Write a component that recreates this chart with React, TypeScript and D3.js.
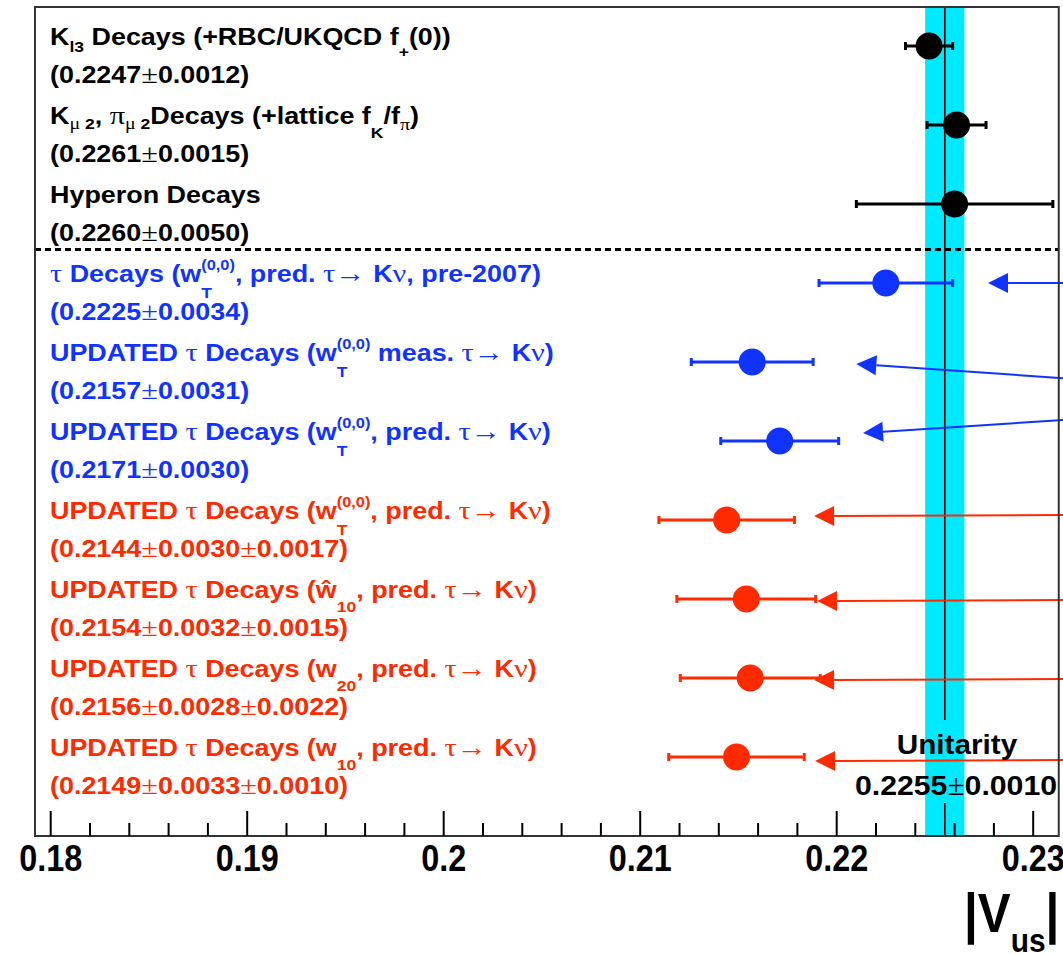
import React from 'react';
import * as d3 from 'd3';

const W = 1063;
const H = 954;

// ---------- data ----------
type Seg = [string, string, number?, string?];

const labels: Seg[][] = [
  [['K', 'n'], ['l3', 'd', 7], [' Decays (+RBC/UKQCD f', 'n'], ['+', 'd', 12], ['(0))', 'n']],
  [['K', 'n'], ['μ', 'dg', 5], [' 2', 'd', 5], [', ', 'n'], ['π', 'g'], ['μ', 'dg', 5], [' 2', 'd', 5], ['Decays (+lattice f', 'n'], ['K', 'd', 14], ['/f', 'n'], ['π', 'dg', 6], [')', 'n']],
  [['Hyperon Decays', 'n']],
  [['τ', 'g'], [' Decays (w', 'n'], ['T', 'ss', 16, '(0,0)'], [', pred. ', 'n'], ['τ→', 'g'], [' K', 'n'], ['ν', 'g'], [', pre-2007)', 'n']],
  [['UPDATED ', 'n'], ['τ', 'g'], [' Decays (w', 'n'], ['T', 'ss', 16, '(0,0)'], [' meas. ', 'n'], ['τ→', 'g'], [' K', 'n'], ['ν', 'g'], [')', 'n']],
  [['UPDATED ', 'n'], ['τ', 'g'], [' Decays (w', 'n'], ['T', 'ss', 16, '(0,0)'], [', pred. ', 'n'], ['τ→', 'g'], [' K', 'n'], ['ν', 'g'], [')', 'n']],
  [['UPDATED ', 'n'], ['τ', 'g'], [' Decays (w', 'n'], ['T', 'ss', 16, '(0,0)'], [', pred. ', 'n'], ['τ→', 'g'], [' K', 'n'], ['ν', 'g'], [')', 'n']],
  [['UPDATED ', 'n'], ['τ', 'g'], [' Decays (ŵ', 'n'], ['10', 'd', 14], [', pred. ', 'n'], ['τ→', 'g'], [' K', 'n'], ['ν', 'g'], [')', 'n']],
  [['UPDATED ', 'n'], ['τ', 'g'], [' Decays (w', 'n'], ['20', 'd', 14], [', pred. ', 'n'], ['τ→', 'g'], [' K', 'n'], ['ν', 'g'], [')', 'n']],
  [['UPDATED ', 'n'], ['τ', 'g'], [' Decays (w', 'n'], ['10', 'd', 14], [', pred. ', 'n'], ['τ→', 'g'], [' K', 'n'], ['ν', 'g'], [')', 'n']],
];

const values = [0.2247, 0.2261, 0.2260, 0.2225, 0.2157, 0.2171, 0.2144, 0.2154, 0.2156, 0.2149];
const statErr = [0.0012, 0.0015, 0.0050, 0.0034, 0.0031, 0.0030, 0.0030, 0.0032, 0.0028, 0.0033];
const systErr = [0, 0, 0, 0, 0, 0, 0.0017, 0.0015, 0.0022, 0.0010];
const groups = ['old', 'old', 'old', 'tau', 'tau', 'tau', 'upd', 'upd', 'upd', 'upd'];

const unitarity = 0.2255;
const unitarityErr = 0.0010;

const xMajorTicks = [0.18, 0.19, 0.2, 0.21, 0.22, 0.23];
const xTickLabels = ['0.18', '0.19', '0.2', '0.21', '0.22', '0.23'];

// annotation arrows (pointing in from the right)
const arrowRows = [3, 4, 5, 6, 7, 8, 9];
const arrowTipX = [0.2277, 0.2210, 0.22134, 0.21885, 0.2190, 0.21885, 0.2189];
const arrowTipRow = [3, 4.025, 4.9, 5.95, 7.025, 8.025, 9.05];
const arrowTailRow = [3, 4.21, 4.73, 5.937, 7.013, 8.013, 9.038];
const arrowTailX = 0.2318;

// ---------- styles ----------
const COLORS: Record<string, string> = { old: '#000000', tau: '#1133ff', upd: '#ff2a00' };
const SANS = '"Liberation Sans", Arial, Helvetica, sans-serif';
const SERIF = '"Liberation Serif", "Times New Roman", serif';
const FS = 23;
const SUBFS = 15;

const x = d3.scaleLinear().domain([0.18, 0.23]).range([50.7, 1033.2]);
const y = d3.scaleLinear().domain([0, 9]).range([46, 757]);
const frameX0 = x(0.1792);
const frameX1 = x(0.2313);
const frameY0 = 7;
const frameY1 = 836;

function rich(segs: Seg[]) {
  const out: React.ReactNode[] = [];
  let cur = 0;
  segs.forEach((s, i) => {
    const [t, k, off = 0, extra] = s;
    if (k === 'n' || k === 'g') {
      out.push(
        <tspan key={i} dy={-cur} fontSize={k === 'g' ? 26 : FS} fontFamily={k === 'g' ? SERIF : SANS} fontWeight={k === 'g' ? 'normal' : 'bold'}>
          {t}
        </tspan>
      );
      cur = 0;
    } else if (k === 'd' || k === 'dg') {
      out.push(
        <tspan key={i} dy={off - cur} fontSize={k === 'dg' ? 17 : SUBFS} fontFamily={k === 'dg' ? SERIF : SANS} fontWeight={k === 'dg' ? 'normal' : 'bold'}>
          {t}
        </tspan>
      );
      cur = off;
    } else if (k === 'ss') {
      out.push(
        <tspan key={i + 'a'} dy={off - cur} fontSize={SUBFS} fontFamily={SANS} fontWeight="bold">
          {t}
        </tspan>
      );
      out.push(
        <tspan key={i + 'b'} dx={-0.611 * SUBFS} dy={-12 - off} fontSize={14} fontFamily={SANS} fontWeight="bold">
          {extra}
        </tspan>
      );
      cur = -12;
    }
  });
  return out;
}

function valueSegs(i: number): Seg[] {
  const segs: Seg[] = [['(' + values[i].toFixed(4), 'n'], ['±', 'g'], [statErr[i].toFixed(4), 'n']];
  if (systErr[i] > 0) {
    segs.push(['±', 'g']);
    segs.push([systErr[i].toFixed(4), 'n']);
  }
  segs.push([')', 'n']);
  return segs;
}

function Arrow({ x1, y1, x2, y2, color }: { x1: number; y1: number; x2: number; y2: number; color: string }) {
  // tip at (x1,y1), tail at (x2,y2)
  const dx = x2 - x1;
  const dy = y2 - y1;
  const len = Math.sqrt(dx * dx + dy * dy);
  const ux = dx / len;
  const uy = dy / len;
  const hl = 20;
  const hw = 10;
  const bx = x1 + ux * hl;
  const by = y1 + uy * hl;
  const pts = [
    [x1, y1],
    [bx - uy * hw, by + ux * hw],
    [bx + uy * hw, by - ux * hw],
  ];
  return (
    <g>
      <line x1={bx} y1={by} x2={x2} y2={y2} stroke={color} strokeWidth={2} />
      <polygon points={pts.map((p) => p.join(',')).join(' ')} fill={color} />
    </g>
  );
}

export default function App() {
  const minorTicks = d3.range(0, 26).map((k) => 0.18 + k * 0.002).filter((v) => Math.abs((v * 100) % 1) > 0.01 && Math.abs((v * 100) % 1) < 0.99);
  const uLabelY = y(9) - 3;
  const uValueY = y(9) + 38;

  return (
    <svg width={W} height={H} style={{ position: 'absolute', left: 0, top: 0, background: '#fff' }} xmlns="http://www.w3.org/2000/svg">
      <rect x={0} y={0} width={W} height={H} fill="#fff" />
      {/* unitarity band */}
      <rect x={x(unitarity - unitarityErr)} y={frameY0} width={x(unitarity + unitarityErr) - x(unitarity - unitarityErr)} height={frameY1 - frameY0} fill="#00eaff" />
      <line x1={x(unitarity)} x2={x(unitarity)} y1={frameY0} y2={uLabelY - 34} stroke="#000" strokeWidth={1.6} />
      <line x1={x(unitarity)} x2={x(unitarity)} y1={uValueY + 8} y2={frameY1} stroke="#000" strokeWidth={1.6} />

      {/* separator */}
      <line x1={frameX0} x2={frameX1} y1={(y(2) + y(3)) / 2 + 6} y2={(y(2) + y(3)) / 2 + 6} stroke="#000" strokeWidth={3} strokeDasharray="6 4" />

      {/* labels */}
      {labels.map((segs, i) => (
        <g key={'lab' + i} fill={COLORS[groups[i]]}>
          <text transform={`translate(50,${y(i) - 1}) scale(1.17,1)`} style={{ whiteSpace: 'pre' }}>
            {rich(segs)}
          </text>
          <text transform={`translate(50,${y(i) + 37}) scale(1.17,1)`} style={{ whiteSpace: 'pre' }}>
            {rich(valueSegs(i))}
          </text>
        </g>
      ))}

      {/* error bars and markers */}
      {values.map((v, i) => {
        const e = Math.sqrt(statErr[i] * statErr[i] + systErr[i] * systErr[i]);
        const c = COLORS[groups[i]];
        const yy = y(i);
        return (
          <g key={'pt' + i}>
            <line x1={x(v - e)} x2={x(v + e)} y1={yy} y2={yy} stroke={c} strokeWidth={3} />
            <line x1={x(v - e)} x2={x(v - e)} y1={yy - 4} y2={yy + 4} stroke={c} strokeWidth={3} />
            <line x1={x(v + e)} x2={x(v + e)} y1={yy - 4} y2={yy + 4} stroke={c} strokeWidth={3} />
            <circle cx={x(v)} cy={yy} r={13.5} fill={c} />
          </g>
        );
      })}

      {/* arrows */}
      {arrowRows.map((r, j) => (
        <Arrow key={'ar' + j} x1={x(arrowTipX[j])} y1={y(arrowTipRow[j])} x2={x(arrowTailX)} y2={y(arrowTailRow[j])} color={COLORS[groups[r]]} />
      ))}

      {/* unitarity text */}
      <text transform={`translate(957,${uLabelY}) scale(1.1,1)`} textAnchor="middle" fontFamily={SANS} fontWeight="bold" fontSize={27} fill="#000">
        Unitarity
      </text>
      <text transform={`translate(956,${uValueY}) scale(1.08,1)`} textAnchor="middle" fill="#000" style={{ whiteSpace: 'pre' }}>
        <tspan fontFamily={SANS} fontWeight="bold" fontSize={28}>{unitarity.toFixed(4)}</tspan>
        <tspan fontFamily={SERIF} fontSize={29}>±</tspan>
        <tspan fontFamily={SANS} fontWeight="bold" fontSize={28}>{unitarityErr.toFixed(4)}</tspan>
      </text>

      {/* frame */}
      <rect x={frameX0} y={frameY0} width={frameX1 - frameX0} height={frameY1 - frameY0} fill="none" stroke="#333" strokeWidth={2} />

      {/* axis ticks */}
      {xMajorTicks.map((t) => (
        <line key={'M' + t} x1={x(t)} x2={x(t)} y1={frameY1} y2={frameY1 - 25} stroke="#000" strokeWidth={2} />
      ))}
      {minorTicks.map((t) => (
        <line key={'m' + t} x1={x(t)} x2={x(t)} y1={frameY1} y2={frameY1 - 13} stroke="#000" strokeWidth={2} />
      ))}
      {xMajorTicks.map((t, i) => (
        <text key={'L' + t} transform={`translate(${x(t)},871) scale(0.9,1.05)`} textAnchor="middle" fontFamily={SANS} fontWeight="bold" fontSize={36} fill="#000">
          {xTickLabels[i]}
        </text>
      ))}

      {/* axis title */}
      <text transform="translate(964,932) scale(0.88,1)" fontFamily={SANS} fontWeight="bold" fontSize={56} fill="#000" style={{ whiteSpace: 'pre' }}>
        <tspan>|V</tspan>
        <tspan fontSize={34} dy={20}>us</tspan>
        <tspan dy={-20}>|</tspan>
      </text>
    </svg>
  );
}
